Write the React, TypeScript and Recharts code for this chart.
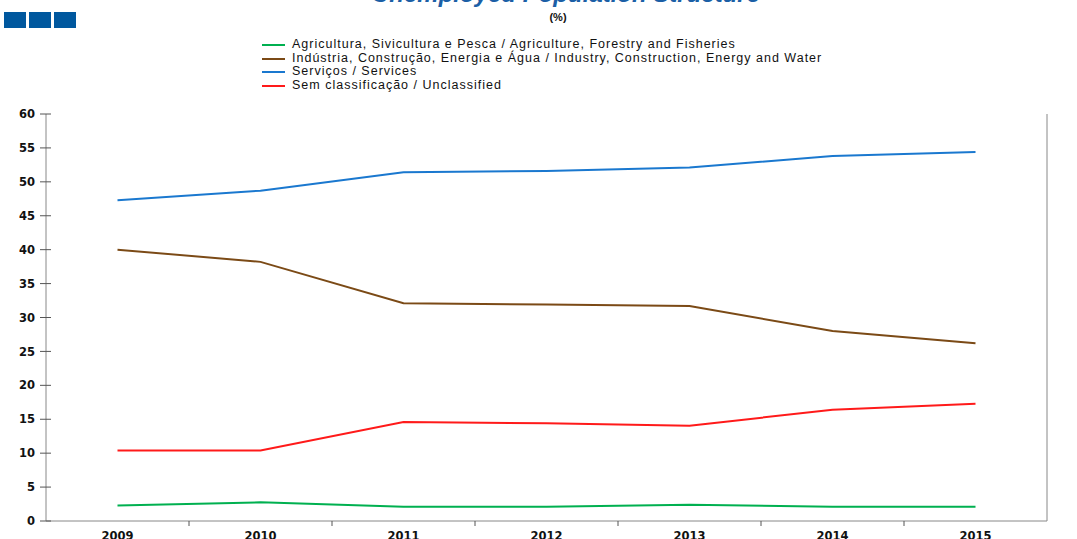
import { LineChart, Line, XAxis, YAxis, Legend } from 'recharts';

const years = ['2009', '2010', '2011', '2012', '2013', '2014', '2015'];
const agriculture = [2.3, 2.75, 2.1, 2.1, 2.4, 2.1, 2.1];
const industry = [40.0, 38.2, 32.1, 31.9, 31.7, 28.0, 26.2];
const services = [47.3, 48.7, 51.4, 51.6, 52.1, 53.8, 54.4];
const unclassified = [10.4, 10.4, 14.6, 14.4, 14.05, 16.4, 17.3];
const yTicks = [0, 5, 10, 15, 20, 25, 30, 35, 40, 45, 50, 55, 60];

const series = [
  { key: 'agri', name: 'Agricultura, Sivicultura e Pesca / Agriculture, Forestry and Fisheries', color: '#00b050' },
  { key: 'ind', name: 'Indústria, Construção, Energia e Água / Industry, Construction, Energy and Water', color: '#7b4a16' },
  { key: 'serv', name: 'Serviços / Services', color: '#1a78cf' },
  { key: 'uncl', name: 'Sem classificação / Unclassified', color: '#ff1a1a' },
];

const chartData = years.map((year, i) => ({
  year,
  agri: agriculture[i],
  ind: industry[i],
  serv: services[i],
  uncl: unclassified[i],
}));

const FONT = '"Liberation Sans", Arial, sans-serif';
const TICK_FONT = '"DejaVu Sans", Arial, sans-serif';
const AXIS_GRAY = '#888888';
const TICK_GRAY = '#555555';

const LeftTick = (props: any) => {
  const { x, y, payload } = props;
  const axisX = x + 10;
  return (
    <g>
      <line x1={axisX - 6} x2={axisX + 5} y1={y} y2={y} stroke={TICK_GRAY} strokeWidth={1} />
      <text x={x - 1} y={y} dy="0.36em" textAnchor="end" fontSize={11.5} fontWeight="bold" fill="#111" fontFamily={TICK_FONT}>
        {payload.value}
      </text>
    </g>
  );
};

const RightTick = (props: any) => {
  const { x, y, payload } = props;
  const axisX = x - 13;
  return (
    <g>
      <line x1={axisX - 5} x2={axisX + 6} y1={y} y2={y} stroke={TICK_GRAY} strokeWidth={1} />
      <text x={x} y={y} dy="0.36em" textAnchor="start" fontSize={11.5} fontWeight="bold" fill="#111" fontFamily={TICK_FONT}>
        {payload.value}
      </text>
    </g>
  );
};

const YearTick = (props: any) => {
  const { x, y, payload, index, width, visibleTicksCount } = props;
  const half = width / visibleTicksCount / 2;
  const axisY = y - 9;
  return (
    <g>
      {index < visibleTicksCount - 1 && (
        <line x1={x + half} x2={x + half} y1={axisY} y2={axisY + 5} stroke={TICK_GRAY} strokeWidth={1} />
      )}
      <text x={x} y={y} dy="0.83em" textAnchor="middle" fontSize={11.5} fontWeight="bold" fill="#111" fontFamily={TICK_FONT}>
        {payload.value}
      </text>
    </g>
  );
};

const LegendRows = () => (
  <div style={{ fontFamily: FONT, fontSize: 12.5, letterSpacing: 1, lineHeight: '13.7px', color: '#111' }}>
    {series.map((s) => (
      <div key={s.key} style={{ display: 'flex', alignItems: 'center', height: 13.7, whiteSpace: 'nowrap' }}>
        <span style={{ display: 'inline-block', width: 23, height: 2, background: s.color, marginRight: 7 }} />
        <span>{s.name}</span>
      </div>
    ))}
  </div>
);

const App = () => {
  return (
    <div style={{ position: 'absolute', left: 0, top: 0, width: 1077, height: 539, overflow: 'hidden', background: '#fff' }}>
      <div style={{ position: 'absolute', left: 4, top: 12, display: 'flex', gap: 3 }}>
        <div style={{ width: 22, height: 16, background: '#00589e' }} />
        <div style={{ width: 22, height: 16, background: '#00589e' }} />
        <div style={{ width: 22, height: 16, background: '#00589e' }} />
      </div>
      <div
        style={{
          position: 'absolute',
          left: 0,
          width: 1132,
          top: -20,
          textAlign: 'center',
          fontFamily: FONT,
          fontSize: 24,
          fontWeight: 'bold',
          fontStyle: 'italic',
          color: '#1b5fa6',
        }}
      >
        Unemployed Population Structure
      </div>
      <div
        style={{
          position: 'absolute',
          left: 0,
          width: 1116,
          top: 11,
          textAlign: 'center',
          fontFamily: FONT,
          fontSize: 11,
          fontWeight: 'bold',
          color: '#111',
        }}
      >
        (%)
      </div>
      <LineChart width={1077} height={539} data={chartData} margin={{ top: 114, right: 0, left: 0, bottom: 0 }}>
        <XAxis
          dataKey="year"
          scale="band"
          height={18}
          stroke={AXIS_GRAY}
          tickLine={false}
          tickSize={5}
          tickMargin={4}
          tick={<YearTick />}
          interval={0}
        />
        <YAxis
          yAxisId="left"
          orientation="left"
          width={46}
          domain={[0, 60]}
          ticks={yTicks}
          stroke={AXIS_GRAY}
          tickLine={false}
          tickSize={6}
          tickMargin={4}
          tick={<LeftTick />}
          interval={0}
        />
        <YAxis
          yAxisId="right"
          orientation="right"
          width={30}
          domain={[0, 60]}
          ticks={yTicks}
          stroke={AXIS_GRAY}
          tickLine={false}
          tickSize={6}
          tickMargin={7}
          tick={<RightTick />}
          interval={0}
        />
        <Legend
          layout="vertical"
          align="center"
          verticalAlign="middle"
          content={<LegendRows />}
          wrapperStyle={{ top: 38, left: 262, width: 'auto' }}
        />
        {series.map((s) => (
          <Line
            key={s.key}
            yAxisId="left"
            type="linear"
            dataKey={s.key}
            name={s.name}
            stroke={s.color}
            strokeWidth={2}
            dot={false}
            activeDot={false}
            isAnimationActive={false}
          />
        ))}
      </LineChart>
    </div>
  );
};

export default App;
